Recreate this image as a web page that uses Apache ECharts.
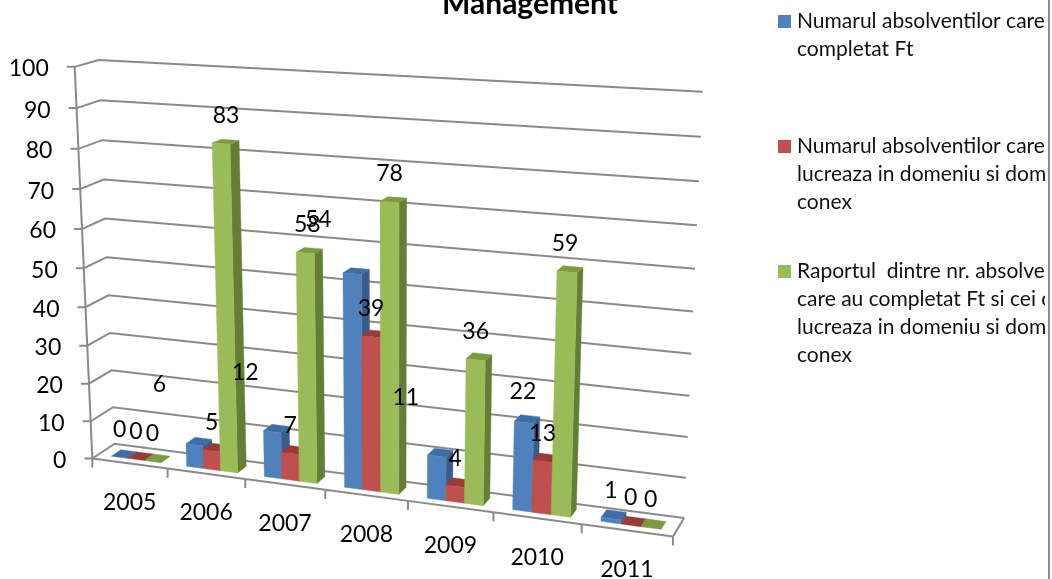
<!DOCTYPE html>
<html>
<head>
<meta charset="utf-8">
<title>Management</title>
<style>
  html, body { margin: 0; padding: 0; background: #fff; }
  #chart { width: 1052px; height: 579px; }
</style>
</head>
<body>
<div id="chart"></div>
<script src="https://cdn.jsdelivr.net/npm/echarts@6/dist/echarts.min.js"></script>
<script>
// date
const categories = ["2005", "2006", "2007", "2008", "2009", "2010", "2011"];
const completatFt = [0, 6, 12, 54, 11, 22, 1];
const inDomeniu = [0, 5, 7, 39, 4, 13, 0];
// the 2008 bar is drawn lower than the 78 printed above it, so height and label differ
const raport = [0, 83, 58, 72, 36, 59, 0];
const raportLabels = [0, 83, 58, 78, 36, 59, 0];
const yTicks = [0, 10, 20, 30, 40, 50, 60, 70, 80, 90, 100];

const seriesNames = [
  "Numarul absolventilor care au\ncompletat Ft",
  "Numarul absolventilor care \nlucreaza in domeniu si domeniu\nconex",
  "Raportul  dintre nr. absolventilor\ncare au completat Ft si cei ce\nlucreaza in domeniu si domeniu\nconex",
];
const seriesValues = [completatFt, inDomeniu, raport];
const seriesLabels = [completatFt, inDomeniu, raportLabels];

// front, top and side colour of each series
const barColors = [
  ["#4f81bd", "#3f6da6", "#385d8a"],
  ["#c0504d", "#983b39", "#8c3836"],
  ["#9bbb59", "#7c9a3e", "#667d36"],
];

const FONT = "Lato";
const grid = { left: 100, top: 60, width: 600, height: 400 };

// bar layout inside a category band and inside the floor depth
const barStart = 0.175;
const barWidth = 0.22;
const depthFront = 0.27;
const depthBack = 0.7;

// Excel moved some labels away from their bars
const labelShift = [
  [[0, 0], [-35, -32], [-27, -31], [-34, -26], [-31, -31], [-1, -3], [0, 0]],
  [[0, 0], [0, 0], [0, 0], [0, 0], [0, 0], [0, 0], [0, 0]],
  [[0, 0], [5, 0], [2, 0], [0, 0], [0, 0], [-2, 0], [0, 0]],
];

// where the plot box corners land in the picture: u, v, depth -> x, y
const anchors = [
  [0, 0, 0, 93, 458], [0, 0.5, 0, 84, 268], [0, 1, 0, 74, 67],
  [0, 0, 1, 114, 444], [0, 0.5, 1, 107, 257], [0, 1, 1, 99, 60],
  [1, 0, 1, 684, 518], [1, 0.5, 1, 693, 311], [1, 1, 1, 703, 92],
  [1, 0, 0, 673, 536], [4 / 7, 0, 0, 408, 502], [2 / 7, 0, 0, 245, 479],
];

function solve(A, b) {
  const n = b.length;
  for (let i = 0; i < n; i++) {
    let p = i;
    for (let r = i + 1; r < n; r++) if (Math.abs(A[r][i]) > Math.abs(A[p][i])) p = r;
    [A[i], A[p]] = [A[p], A[i]];
    [b[i], b[p]] = [b[p], b[i]];
    for (let r = i + 1; r < n; r++) {
      const f = A[r][i] / A[i][i];
      for (let c = i; c < n; c++) A[r][c] -= f * A[i][c];
      b[r] -= f * b[i];
    }
  }
  const x = new Array(n).fill(0);
  for (let i = n - 1; i >= 0; i--) {
    let s = b[i];
    for (let c = i + 1; c < n; c++) s -= A[i][c] * x[c];
    x[i] = s / A[i][i];
  }
  return x;
}

// least squares fit of the perspective matrix
function fitProjection() {
  const rows = [];
  const rhs = [];
  anchors.forEach(([u, v, d, px, py]) => {
    const x = px / 1000;
    const y = py / 1000;
    rows.push([u, v, d, 1, 0, 0, 0, 0, -x * u, -x * v, -x * d]);
    rhs.push(x);
    rows.push([0, 0, 0, 0, u, v, d, 1, -y * u, -y * v, -y * d]);
    rhs.push(y);
  });
  const N = 11;
  const AtA = [];
  const Atb = [];
  for (let i = 0; i < N; i++) {
    AtA.push(new Array(N).fill(0));
    Atb.push(0);
    rows.forEach((row, r) => {
      for (let j = 0; j < N; j++) AtA[i][j] += row[i] * row[j];
      Atb[i] += row[i] * rhs[r];
    });
  }
  return solve(AtA, Atb);
}
const M = fitProjection();

function project(u, v, d) {
  const w = M[8] * u + M[9] * v + M[10] * d + 1;
  return [
    (1000 * (M[0] * u + M[1] * v + M[2] * d + M[3])) / w,
    (1000 * (M[4] * u + M[5] * v + M[6] * d + M[7])) / w,
  ];
}
const toU = (x) => (x - grid.left) / grid.width;
const toV = (y) => (grid.top + grid.height - y) / grid.height;

const lineStyle = { stroke: "#8a8a8a", lineWidth: 2, fill: null };

function renderGridLine(params, api) {
  const t = api.value(1);
  const v = toV(api.coord([0, t])[1]);
  const front = project(0, v, 0);
  const children = [
    {
      type: "polyline",
      shape: { points: [[front[0] - 8, front[1]], front, project(0, v, 1), project(1, v, 1)] },
      style: lineStyle,
    },
    {
      type: "text",
      style: {
        text: String(t), x: front[0] - 26, y: front[1] + 2,
        align: "right", verticalAlign: "middle",
        font: "23px " + FONT, fill: "#000",
      },
    },
  ];
  if (params.dataIndex < yTicks.length - 1) {
    const vNext = toV(api.coord([0, yTicks[params.dataIndex + 1]])[1]);
    const next = project(0, vNext, 0);
    children.push({ type: "line", shape: { x1: front[0], y1: front[1], x2: next[0], y2: next[1] }, style: lineStyle });
  }
  return { type: "group", children };
}

function renderFloor(params, api) {
  const cat = api.value(0);
  const band = api.size([1, 0])[0];
  const cx = api.coord([cat, 0])[0];
  const a = project(toU(cx - band / 2), 0, 0);
  const b = project(toU(cx + band / 2), 0, 0);
  const mid = project(toU(cx), 0, 0);
  const children = [
    { type: "line", shape: { x1: a[0], y1: a[1], x2: b[0], y2: b[1] }, style: lineStyle },
    { type: "line", shape: { x1: b[0], y1: b[1], x2: b[0], y2: b[1] + 9 }, style: lineStyle },
    {
      type: "text",
      style: {
        text: categories[cat], x: mid[0], y: mid[1] + 39,
        align: "center", verticalAlign: "middle",
        font: "23px " + FONT, fill: "#000",
      },
    },
  ];
  if (params.dataIndex === 0) {
    children.push({ type: "line", shape: { x1: a[0], y1: a[1], x2: a[0], y2: a[1] + 9 }, style: lineStyle });
  }
  if (params.dataIndex === categories.length - 1) {
    const back = project(1, 0, 1);
    children.push({ type: "line", shape: { x1: b[0], y1: b[1], x2: back[0], y2: back[1] }, style: lineStyle });
  }
  return { type: "group", children };
}

function barRenderer(idx) {
  return function (params, api) {
    const cat = api.value(0);
    const pt = api.coord([cat, api.value(1)]);
    const band = api.size([1, 0])[0];
    const left = pt[0] - band / 2 + band * (barStart + idx * barWidth);
    const u0 = toU(left);
    const u1 = toU(left + band * barWidth);
    const v = toV(pt[1]);
    const [front, top, side] = barColors[idx];
    const poly = (points, fill) => ({
      type: "polygon",
      shape: { points },
      style: { fill, stroke: fill, lineWidth: 0.4 },
    });
    const children = [
      poly([project(u1, 0, depthFront), project(u1, 0, depthBack), project(u1, v, depthBack), project(u1, v, depthFront)], side),
      poly([project(u0, v, depthFront), project(u1, v, depthFront), project(u1, v, depthBack), project(u0, v, depthBack)], top),
    ];
    if (v > 0) {
      children.push(poly([project(u0, 0, depthFront), project(u1, 0, depthFront), project(u1, v, depthFront), project(u0, v, depthFront)], front));
    }
    return { type: "group", children };
  };
}

function renderBarLabel(params, api) {
  const idx = api.value(0);
  const cat = api.value(1);
  const pt = api.coord([cat, api.value(2)]);
  const band = api.size([1, 0])[0];
  const mid = pt[0] - band / 2 + band * (barStart + (idx + 0.5) * barWidth);
  const p = project(toU(mid), toV(pt[1]), depthFront);
  const shift = labelShift[idx][cat];
  return {
    type: "text",
    style: {
      text: String(seriesLabels[idx][cat]), x: p[0] + shift[0], y: p[1] - 28 + shift[1],
      align: "center", verticalAlign: "middle",
      font: "23px " + FONT, fill: "#000",
    },
  };
}

const labelRows = [];
seriesValues.forEach((values, idx) => {
  values.forEach((val, cat) => labelRows.push([idx, cat, val]));
});

const legendTops = [15, 140, 265];
const legendGraphics = [];
seriesNames.forEach((name, i) => {
  legendGraphics.push({
    type: "rect", left: 778, top: legendTops[i],
    shape: { width: 13, height: 13 }, style: { fill: barColors[i][0] },
  });
  legendGraphics.push({
    type: "text", left: 797, top: legendTops[i] - 8,
    style: {
      text: name, font: "21px " + FONT, lineHeight: 28, fill: "#111",
      width: 262, overflow: "truncate", ellipsis: "",
    },
  });
});

const chart = echarts.init(document.getElementById("chart"), null, { renderer: "canvas" });
chart.setOption({
  backgroundColor: "#fff",
  animation: false,
  title: {
    text: "Management",
    left: 525,
    top: -16,
    textAlign: "center",
    textStyle: { fontFamily: FONT, fontSize: 30, fontWeight: "bold", color: "#000" },
  },
  grid: { ...grid, show: false },
  xAxis: { type: "category", data: categories, show: false },
  yAxis: { type: "value", min: 0, max: 100, interval: 10, show: false },
  graphic: [
    ...legendGraphics,
    { type: "rect", left: 1045, top: 0, z: 50, shape: { width: 7, height: 579 }, style: { fill: "#fff" } },
    { type: "rect", left: 1048, top: 0, z: 51, shape: { width: 2, height: 579 }, style: { fill: "#8c8c8c" } },
  ],
  series: [
    { type: "custom", silent: true, z: 1, clip: false, renderItem: renderGridLine, encode: { x: 0, y: 1 }, data: yTicks.map((t) => [0, t]) },
    { type: "custom", silent: true, z: 1, clip: false, renderItem: renderFloor, encode: { x: 0, y: 1 }, data: categories.map((c, i) => [i, 0]) },
    ...seriesValues.map((values, idx) => ({
      type: "custom",
      name: seriesNames[idx],
      silent: true,
      z: 2,
      clip: false,
      renderItem: barRenderer(idx),
      encode: { x: 0, y: 1 },
      data: values.map((v, i) => [i, v]),
    })),
    { type: "custom", silent: true, z: 3, clip: false, renderItem: renderBarLabel, encode: { x: 1, y: 2 }, data: labelRows },
  ],
});
</script>
</body>
</html>
